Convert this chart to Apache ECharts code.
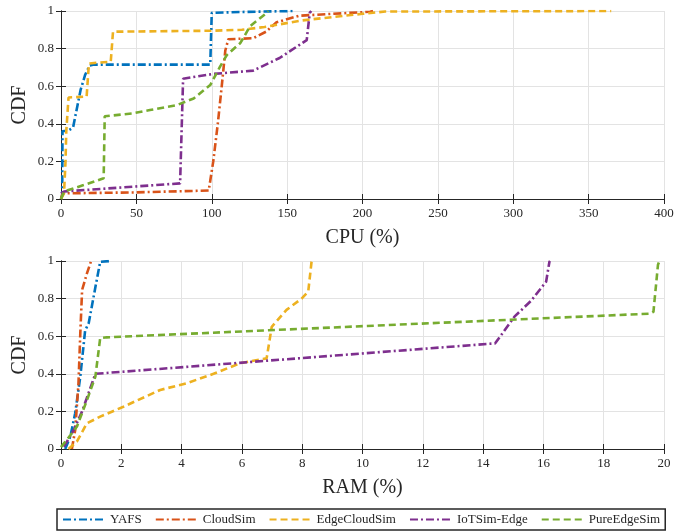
<!DOCTYPE html>
<html>
<head>
<meta charset="utf-8">
<script src="https://cdn.jsdelivr.net/npm/echarts@6/dist/echarts.min.js"></script>
<style>
  html, body { margin: 0; padding: 0; background: #fff; }
  #chart { width: 684px; height: 531px; }
</style>
</head>
<body>
<div id="chart"></div>
<script>
// series names
const names = ["YAFS", "CloudSim", "EdgeCloudSim", "IoTSim-Edge", "PureEdgeSim"];

// CPU (%) -> CDF
const cpuYafs = [[0, 0], [0.8, 0.02], [1, 0.36], [5, 0.365], [8, 0.38], [11, 0.5], [13, 0.58], [16, 0.66], [19, 0.71], [22, 0.715], [99, 0.715], [100, 0.99], [120, 0.995], [155, 1]];
const cpuCloudSim = [[0, 0], [1, 0.03], [48, 0.035], [98, 0.045], [101, 0.2], [104, 0.4], [106.5, 0.59], [109, 0.79], [111, 0.85], [127.5, 0.855], [136, 0.89], [143, 0.94], [158, 0.975], [205, 0.996], [207, 1]];
const cpuEdgeCloudSim = [[0, 0], [2, 0.03], [3, 0.2], [3.5, 0.36], [4, 0.37], [5, 0.54], [17, 0.545], [18.5, 0.72], [24, 0.725], [33, 0.73], [34.5, 0.89], [100, 0.895], [120, 0.9], [135, 0.915], [160, 0.95], [200, 0.985], [215, 0.997], [365, 1]];
const cpuIoTSim = [[0, 0.03], [2, 0.04], [79, 0.083], [81, 0.64], [101, 0.665], [127.5, 0.683], [145, 0.75], [163, 0.845], [165, 0.99], [166, 1]];
const cpuPureEdgeSim = [[0, 0], [2, 0.04], [15, 0.074], [28.3, 0.11], [29, 0.44], [48, 0.456], [59, 0.473], [77, 0.5], [88, 0.535], [99, 0.606], [105.5, 0.704], [110, 0.766], [119, 0.83], [125.5, 0.92], [136.5, 0.99], [137.5, 1]];

// RAM (%) -> CDF
const ramYafs = [[0.14, 0], [0.31, 0.066], [0.47, 0.19], [0.64, 0.385], [0.8, 0.63], [0.92, 0.67], [1.14, 0.86], [1.3, 0.996], [1.63, 1]];
const ramCloudSim = [[0.36, 0], [0.47, 0.1], [0.58, 0.35], [0.64, 0.615], [0.7, 0.846], [0.86, 0.934], [0.99, 0.996], [1, 1]];
const ramEdgeCloudSim = [[0.25, 0], [0.53, 0.04], [0.86, 0.137], [1.3, 0.172], [2.07, 0.225], [3.29, 0.314], [4.17, 0.35], [5.06, 0.4], [5.94, 0.456], [6.82, 0.482], [6.88, 0.49], [6.99, 0.65], [7.48, 0.74], [7.98, 0.8], [8.2, 0.837], [8.31, 0.996], [8.32, 1]];
const ramIoTSim = [[0.09, 0.012], [0.2, 0.04], [0.42, 0.1], [0.7, 0.2], [0.92, 0.3], [1.14, 0.4], [14.4, 0.562], [14.6, 0.606], [15.04, 0.704], [15.6, 0.79], [16.09, 0.89], [16.2, 0.996], [16.22, 1]];
const ramPureEdgeSim = [[0, 0.01], [0.2, 0.05], [0.53, 0.12], [0.86, 0.26], [1.14, 0.385], [1.3, 0.59], [1.52, 0.594], [19.54, 0.72], [19.65, 0.73], [19.8, 0.98], [19.85, 1]];

const cpuSets = [cpuYafs, cpuCloudSim, cpuEdgeCloudSim, cpuIoTSim, cpuPureEdgeSim];
const ramSets = [ramYafs, ramCloudSim, ramEdgeCloudSim, ramIoTSim, ramPureEdgeSim];

// MATLAB default colour order
const colors = ["#0072BD", "#D95319", "#EDB120", "#7E2F8E", "#77AC30"];
const dashes = [[8, 3, 2, 3], [8, 3, 2, 3], [7, 4], [8, 3, 2, 3], [7, 4]];

const serif = "Liberation Serif";
const ink = "#262626";

function xAxisFor(gridIndex, max, interval, name) {
  return [{
    type: "value", gridIndex: gridIndex, min: 0, max: max, interval: interval,
    name: name, nameLocation: "middle", nameGap: 29,
    nameTextStyle: { fontFamily: serif, fontSize: 20, color: ink },
    axisLine: { show: true, lineStyle: { color: ink, width: 1 } },
    axisTick: { show: true, inside: true, length: 5, lineStyle: { color: ink } },
    axisLabel: { fontFamily: serif, fontSize: 13, color: ink, margin: 8 },
    splitLine: { show: true, lineStyle: { color: "#e3e3e3", width: 1 } }
  }, {
    type: "value", gridIndex: gridIndex, position: "top", min: 0, max: max, interval: interval,
    axisLine: { show: true, lineStyle: { color: ink, width: 1 } },
    axisTick: { show: true, inside: true, length: 5, lineStyle: { color: ink } },
    axisLabel: { show: false }, splitLine: { show: false }
  }];
}

function yAxisFor(gridIndex) {
  return [{
    type: "value", gridIndex: gridIndex, min: 0, max: 1, interval: 0.2,
    name: "CDF", nameLocation: "middle", nameGap: 31, nameRotate: 90,
    nameMoveOverlap: false,
    nameTextStyle: { fontFamily: serif, fontSize: 20, color: ink },
    axisLine: { show: true, lineStyle: { color: ink, width: 1 } },
    axisTick: { show: true, inside: true, length: 5, lineStyle: { color: ink } },
    axisLabel: { fontFamily: serif, fontSize: 13, color: ink, margin: 7 },
    splitLine: { show: true, lineStyle: { color: "#e3e3e3", width: 1 } }
  }, {
    type: "value", gridIndex: gridIndex, position: "right", min: 0, max: 1, interval: 0.2,
    axisLine: { show: true, lineStyle: { color: ink, width: 1 } },
    axisTick: { show: true, inside: true, length: 5, lineStyle: { color: ink } },
    axisLabel: { show: false }, splitLine: { show: false }
  }];
}

let series = [];
function addSeries(sets, xIdx, yIdx) {
  for (let i = 0; i < sets.length; i++) {
    series.push({
      name: names[i], type: "line", xAxisIndex: xIdx, yAxisIndex: yIdx,
      data: sets[i], symbol: "none", showSymbol: false, clip: true,
      lineStyle: { color: colors[i], width: 2.6, type: dashes[i] },
      itemStyle: { color: colors[i] },
      z: 3 + i
    });
  }
}
addSeries(cpuSets, 0, 0);
addSeries(ramSets, 2, 2);

const chart = echarts.init(document.getElementById("chart"), null, { renderer: "canvas" });
chart.setOption({
  animation: false,
  backgroundColor: "#fff",
  grid: [
    { left: 61, right: 20, top: 11, height: 188 },
    { left: 61, right: 20, top: 261, height: 188 }
  ],
  xAxis: xAxisFor(0, 400, 50, "CPU (%)").concat(xAxisFor(1, 20, 2, "RAM (%)")),
  yAxis: yAxisFor(0).concat(yAxisFor(1)),
  legend: {
    data: names, left: 57, bottom: 1, width: 630,
    itemWidth: 42, itemHeight: 14, itemGap: 13,
    padding: [4, 5], borderColor: ink, borderWidth: 1.5,
    itemStyle: { opacity: 0 },
    textStyle: { fontFamily: serif, fontSize: 13, color: ink }
  },
  series: series
});
</script>
</body>
</html>
